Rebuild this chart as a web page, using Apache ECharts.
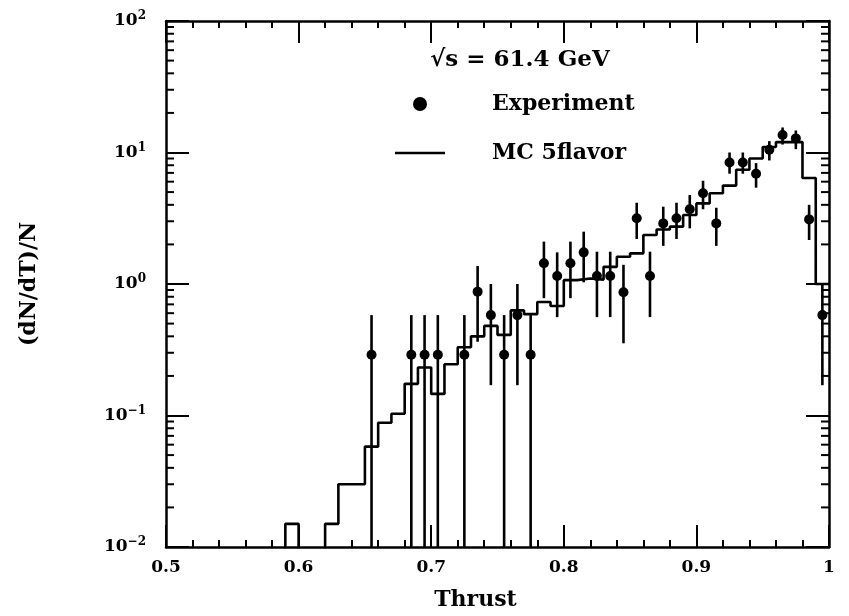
<!DOCTYPE html>
<html><head><meta charset="utf-8">
<script src="https://cdn.jsdelivr.net/npm/echarts@6/dist/echarts.min.js"></script>
<style>html,body{margin:0;padding:0;background:#fff}#c{width:849px;height:616px}</style>
</head><body><div id="c"></div>
<script>
// ---- MC 5flavor histogram: lower bin edges and contents (0 = empty bin) ----
const mcEdges = [0.58,0.59,0.60,0.61,0.62,0.63,0.64,0.65,0.66,0.67,0.68,0.69,0.70,0.71,0.72,0.73,0.74,0.75,0.76,0.77,0.78,0.79,0.80,0.81,0.82,0.83,0.84,0.85,0.86,0.87,0.88,0.89,0.90,0.91,0.92,0.93,0.94,0.95,0.96,0.97,0.98,0.99];
const mcValues = [0,0.015,0,0,0.015,0.03,0.03,0.058,0.088,0.103,0.174,0.232,0.146,0.245,0.33,0.40,0.48,0.41,0.63,0.59,0.73,0.68,1.07,1.10,1.08,1.35,1.61,1.71,2.36,2.6,2.73,3.35,4.1,4.9,5.6,7.4,9.0,11.0,12.0,12.0,6.4,1.0];
const mcUpperEdge = 1.0;

// ---- Experiment points ----
const expX    = [0.655,0.685,0.695,0.705,0.725,0.735,0.745,0.755,0.765,0.775,0.785,0.795,0.805,0.815,0.825,0.835,0.845,0.855,0.865,0.875,0.885,0.895,0.905,0.915,0.925,0.935,0.945,0.955,0.965,0.975,0.985,0.995];
const expY    = [0.29,0.29,0.29,0.29,0.29,0.875,0.58,0.29,0.58,0.29,1.44,1.15,1.44,1.74,1.15,1.15,0.865,3.16,1.15,2.89,3.16,3.7,4.9,2.89,8.4,8.4,6.9,10.5,13.6,12.8,3.1,0.58];
const expLow  = [0,0,0,0,0,0.364,0.17,0,0.17,0,0.78,0.56,0.78,1.03,0.56,0.56,0.354,2.2,0.56,1.95,2.2,2.65,3.7,1.95,6.9,6.9,5.4,8.7,11.5,10.6,2.16,0.17];
const expHigh = [0.58,0.58,0.58,0.58,0.58,1.37,1.0,0.58,1.0,0.58,2.1,1.74,2.1,2.5,1.76,1.76,1.4,4.15,1.76,3.87,4.15,4.75,6.1,3.8,10.0,10.0,8.3,12.2,15.5,14.7,4.0,1.0];

// ---- axes ----
const xMin = 0.5, xMax = 1.0, xStep = 0.1;
const yMin = 0.01, yMax = 100;
const yMinorMultipliers = [2,3,4,5,6,7,8,9];
const yDecades = [0.01, 0.1, 1, 10];

const FONT = '"DejaVu Serif", "Liberation Serif", serif';
const TINY = 1e-4; // empty bins drawn below the axis (clipped)

const mcData = mcEdges.map((e, i) => [e, mcValues[i] > 0 ? mcValues[i] : TINY]);
mcData.push([mcUpperEdge, mcValues[mcValues.length - 1]]);

const expData = expX.map((x, i) => [x, expY[i]]);
const errData = expX.map((x, i) => [x, expLow[i], expHigh[i]]);

const yMinorTicks = [];
yDecades.forEach(d => yMinorMultipliers.forEach(m => yMinorTicks.push([xMin, d * m])));

const supMap = {'-':'\u2212'};
function yLabel(v) {
  const e = Math.round(Math.log10(v));
  const s = String(e).split('').map(c => supMap[c] || c).join('');
  return '{b|10}{s|' + s + '}';
}

const chart = echarts.init(document.getElementById('c'), null, {renderer: 'canvas'});

const axisLineStyle = {show: true, lineStyle: {color: '#000', width: 2.5}};
const xAxisBase = {
  type: 'value', min: xMin, max: xMax, interval: xStep,
  axisLine: axisLineStyle,
  axisTick: {show: true, inside: true, length: 22, lineStyle: {color: '#000', width: 2}},
  minorTick: {show: true, splitNumber: 5, length: 7, lineStyle: {color: '#000', width: 2}},
  splitLine: {show: false}, minorSplitLine: {show: false}
};
const yAxisBase = {
  type: 'log', logBase: 10, min: yMin, max: yMax,
  axisLine: axisLineStyle,
  axisTick: {show: true, inside: true, length: 23, lineStyle: {color: '#000', width: 2}},
  splitLine: {show: false}
};

chart.setOption({
  animation: false,
  backgroundColor: '#fff',
  grid: {left: 166, right: 20, top: 21, bottom: 69, containLabel: false},
  xAxis: [
    Object.assign({}, xAxisBase, {
      position: 'bottom',
      name: 'Thrust', nameLocation: 'middle', nameGap: 42,
      nameTextStyle: {fontFamily: FONT, fontWeight: 'bold', fontSize: 22, color: '#000', padding: [0, 44, 0, 0]},
      axisLabel: {show: true, margin: 12, fontFamily: FONT, fontWeight: 'bold', fontSize: 17, color: '#000'}
    }),
    Object.assign({}, xAxisBase, {position: 'top', axisLabel: {show: false}})
  ],
  yAxis: [
    Object.assign({}, yAxisBase, {
      position: 'left',
      name: '(dN/dT)/N', nameLocation: 'middle', nameGap: 126,
      nameTextStyle: {fontFamily: FONT, fontWeight: 'bold', fontSize: 22, color: '#000'},
      axisLabel: {
        show: true, margin: 20, formatter: yLabel,
        rich: {
          b: {fontFamily: FONT, fontWeight: 'bold', fontSize: 17, color: '#000'},
          s: {fontFamily: FONT, fontWeight: 'bold', fontSize: 12, color: '#000', padding: [0, 0, 10, 0]}
        }
      }
    }),
    Object.assign({}, yAxisBase, {position: 'right', axisLabel: {show: false}})
  ],
  legend: {
    orient: 'vertical', left: 390, top: 87, itemGap: 25,
    itemWidth: 50, itemHeight: 14,
    data: [
      {name: 'Experiment', icon: 'circle', itemStyle: {color: '#000', opacity: 1}},
      {name: 'MC 5flavor', icon: 'path://M0,0 M50,14 M0,5.7 L50,5.7 L50,8.3 L0,8.3 Z'}
    ],
    textStyle: {fontFamily: FONT, fontWeight: 'bold', fontSize: 22, color: '#000', lineHeight: 24, padding: [0, 0, 0, 42]},
    selectedMode: false
  },
  graphic: [{
    type: 'text', x: 520, y: 60,
    style: {text: '\u221As = 61.4 GeV', font: 'bold 23px ' + FONT, fill: '#000', textAlign: 'center', textVerticalAlign: 'middle'}
  }],
  series: [
    {
      name: 'MC 5flavor', type: 'line', step: 'end', data: mcData,
      symbol: 'none', clip: true,
      lineStyle: {color: '#000', width: 2.6}, itemStyle: {color: '#000'}
    },
    {
      name: 'Experiment', type: 'scatter', data: expData,
      symbol: 'circle', symbolSize: 10, itemStyle: {color: '#000', opacity: 1}, z: 5
    },
    {
      name: 'errors', type: 'custom', data: errData, z: 4, silent: true,
      encode: {x: 0, y: [1, 2]},
      renderItem: function (params, api) {
        const cs = params.coordSys;
        const bottom = cs.y + cs.height;
        const x = api.value(0), lo = api.value(1), hi = api.value(2);
        const pTop = api.coord([x, hi]);
        let yLo = lo > 0 ? api.coord([x, lo])[1] : bottom;
        if (yLo > bottom) yLo = bottom;
        return {type: 'line', shape: {x1: pTop[0], y1: pTop[1], x2: pTop[0], y2: yLo},
                style: {stroke: '#000', lineWidth: 2.6}};
      }
    },
    {
      name: 'yMinorTicks', type: 'custom', data: yMinorTicks, silent: true, clip: false,
      encode: {x: 0, y: 1},
      renderItem: function (params, api) {
        const cs = params.coordSys;
        const p = api.coord([api.value(0), api.value(1)]);
        const L = cs.x, R = cs.x + cs.width;
        return {type: 'group', children: [
          {type: 'line', shape: {x1: L, y1: p[1], x2: L + 8, y2: p[1]}, style: {stroke: '#000', lineWidth: 2}},
          {type: 'line', shape: {x1: R - 8, y1: p[1], x2: R, y2: p[1]}, style: {stroke: '#000', lineWidth: 2}}
        ]};
      }
    }
  ]
});
</script>
</body></html>
